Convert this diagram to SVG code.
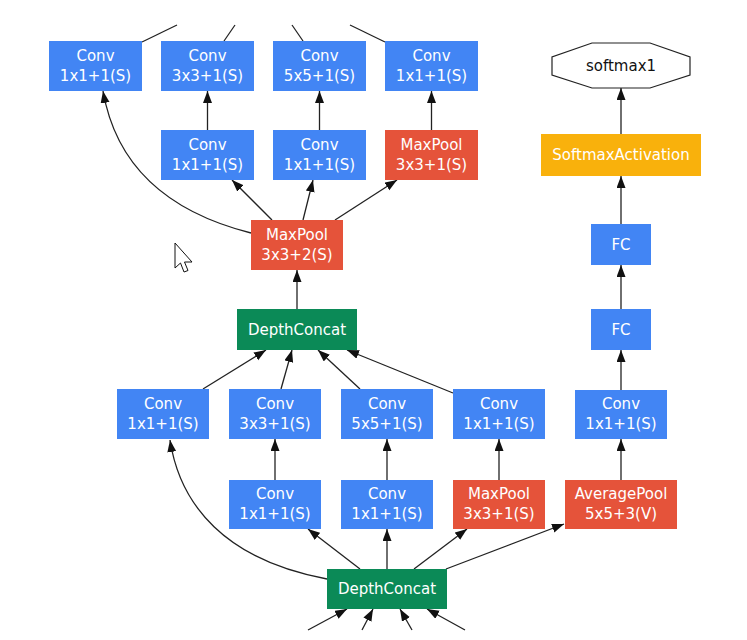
<svg xmlns="http://www.w3.org/2000/svg" width="747" height="640" viewBox="0 0 747 640">
<style>
.b{fill:#4285F4}
.r{fill:#E5533A}
.g{fill:#0B8A57}
.y{fill:#F9B10C}
text{font-family:"DejaVu Sans","Liberation Sans",sans-serif;font-size:15px;fill:#ffffff;text-anchor:middle}
text.k{fill:#111111}
.e{fill:none;stroke:#222222;stroke-width:1.3}
</style>
<defs>
<marker id="ah" markerUnits="userSpaceOnUse" markerWidth="13" markerHeight="10" refX="12" refY="4.5" orient="auto">
<path d="M0,0 L12,4.5 L0,9 z" fill="#111111"/>
</marker>
</defs>
<rect width="747" height="640" fill="#ffffff"/>

<g id="connectors">
<line class="e" x1="142" y1="42" x2="177" y2="25"/>
<line class="e" x1="224" y1="41" x2="235" y2="25"/>
<line class="e" x1="303" y1="41" x2="292" y2="25"/>
<line class="e" x1="385" y1="42" x2="350" y2="25"/>
<line class="e" x1="207.5" y1="130" x2="207.5" y2="91" marker-end="url(#ah)"/>
<line class="e" x1="319.5" y1="130" x2="319.5" y2="91" marker-end="url(#ah)"/>
<line class="e" x1="431.5" y1="130" x2="431.5" y2="91" marker-end="url(#ah)"/>
<path class="e" d="M251,233 C160,210 115,160 103,91" marker-end="url(#ah)"/>
<line class="e" x1="272" y1="220" x2="232" y2="180" marker-end="url(#ah)"/>
<line class="e" x1="303" y1="220" x2="313" y2="180" marker-end="url(#ah)"/>
<line class="e" x1="335" y1="220" x2="397" y2="180" marker-end="url(#ah)"/>
<line class="e" x1="297" y1="309" x2="297" y2="270" marker-end="url(#ah)"/>
<line class="e" x1="203" y1="389" x2="266" y2="350" marker-end="url(#ah)"/>
<line class="e" x1="281" y1="389" x2="292" y2="350" marker-end="url(#ah)"/>
<line class="e" x1="360" y1="389" x2="318" y2="350" marker-end="url(#ah)"/>
<line class="e" x1="453" y1="393" x2="347" y2="350" marker-end="url(#ah)"/>
<line class="e" x1="275" y1="480" x2="275" y2="439" marker-end="url(#ah)"/>
<line class="e" x1="387" y1="480" x2="387" y2="439" marker-end="url(#ah)"/>
<line class="e" x1="499" y1="480" x2="499" y2="439" marker-end="url(#ah)"/>
<line class="e" x1="621" y1="480" x2="621" y2="439" marker-end="url(#ah)"/>
<path class="e" d="M327,579 C225,560 180,505 170,440" marker-end="url(#ah)"/>
<line class="e" x1="360" y1="569" x2="308" y2="529" marker-end="url(#ah)"/>
<line class="e" x1="387" y1="569" x2="387" y2="529" marker-end="url(#ah)"/>
<line class="e" x1="414" y1="569" x2="467" y2="529" marker-end="url(#ah)"/>
<line class="e" x1="446" y1="569" x2="564" y2="524" marker-end="url(#ah)"/>
<line class="e" x1="308" y1="630" x2="347" y2="609" marker-end="url(#ah)"/>
<line class="e" x1="362" y1="630" x2="373" y2="609" marker-end="url(#ah)"/>
<line class="e" x1="412" y1="630" x2="400" y2="609" marker-end="url(#ah)"/>
<line class="e" x1="465" y1="630" x2="427" y2="609" marker-end="url(#ah)"/>
<line class="e" x1="621" y1="390" x2="621" y2="350" marker-end="url(#ah)"/>
<line class="e" x1="621" y1="309" x2="621" y2="265" marker-end="url(#ah)"/>
<line class="e" x1="621" y1="224" x2="621" y2="176" marker-end="url(#ah)"/>
<line class="e" x1="621" y1="134" x2="621" y2="88" marker-end="url(#ah)"/>
</g>

<g id="conv_t1"><rect class="b" x="49" y="41" width="93" height="50"/><text x="95.5" y="61">Conv</text><text x="95.5" y="81">1x1+1(S)</text></g>
<g id="conv_t2"><rect class="b" x="161" y="41" width="93" height="50"/><text x="207.5" y="61">Conv</text><text x="207.5" y="81">3x3+1(S)</text></g>
<g id="conv_t3"><rect class="b" x="273" y="41" width="93" height="50"/><text x="319.5" y="61">Conv</text><text x="319.5" y="81">5x5+1(S)</text></g>
<g id="conv_t4"><rect class="b" x="385" y="41" width="93" height="50"/><text x="431.5" y="61">Conv</text><text x="431.5" y="81">1x1+1(S)</text></g>

<g id="conv_m1"><rect class="b" x="161" y="130" width="93" height="50"/><text x="207.5" y="150">Conv</text><text x="207.5" y="170">1x1+1(S)</text></g>
<g id="conv_m2"><rect class="b" x="273" y="130" width="93" height="50"/><text x="319.5" y="150">Conv</text><text x="319.5" y="170">1x1+1(S)</text></g>
<g id="maxpool_m3"><rect class="r" x="385" y="130" width="93" height="50"/><text x="431.5" y="150">MaxPool</text><text x="431.5" y="170">3x3+1(S)</text></g>

<g id="maxpool_s2"><rect class="r" x="251" y="220" width="92" height="50"/><text x="297" y="240">MaxPool</text><text x="297" y="260">3x3+2(S)</text></g>

<g id="depthconcat_1"><rect class="g" x="237" y="309" width="120" height="41"/><text x="297" y="335">DepthConcat</text></g>

<g id="conv_a1"><rect class="b" x="117" y="389" width="92" height="50"/><text x="163" y="409">Conv</text><text x="163" y="429">1x1+1(S)</text></g>
<g id="conv_a2"><rect class="b" x="229" y="389" width="92" height="50"/><text x="275" y="409">Conv</text><text x="275" y="429">3x3+1(S)</text></g>
<g id="conv_a3"><rect class="b" x="341" y="389" width="92" height="50"/><text x="387" y="409">Conv</text><text x="387" y="429">5x5+1(S)</text></g>
<g id="conv_a4"><rect class="b" x="453" y="389" width="92" height="50"/><text x="499" y="409">Conv</text><text x="499" y="429">1x1+1(S)</text></g>

<g id="conv_b1"><rect class="b" x="229" y="480" width="92" height="49"/><text x="275" y="499">Conv</text><text x="275" y="519">1x1+1(S)</text></g>
<g id="conv_b2"><rect class="b" x="341" y="480" width="92" height="49"/><text x="387" y="499">Conv</text><text x="387" y="519">1x1+1(S)</text></g>
<g id="maxpool_b3"><rect class="r" x="453" y="480" width="92" height="49"/><text x="499" y="499">MaxPool</text><text x="499" y="519">3x3+1(S)</text></g>
<g id="avgpool"><rect class="r" x="565" y="480" width="112" height="49"/><text x="621" y="499">AveragePool</text><text x="621" y="519">5x5+3(V)</text></g>

<g id="depthconcat_0"><rect class="g" x="327" y="569" width="120" height="40"/><text x="387" y="594">DepthConcat</text></g>

<g id="conv_aux"><rect class="b" x="575" y="390" width="92" height="49"/><text x="621" y="409">Conv</text><text x="621" y="429">1x1+1(S)</text></g>
<g id="fc2"><rect class="b" x="591" y="309" width="60" height="41"/><text x="621" y="335">FC</text></g>
<g id="fc1"><rect class="b" x="591" y="224" width="60" height="41"/><text x="621" y="250">FC</text></g>
<g id="softmaxact"><rect class="y" x="541" y="134" width="160" height="42"/><text x="621" y="160">SoftmaxActivation</text></g>
<g id="softmax1"><polygon points="592,43 650,43 690,57 690,75 650,88 592,88 552,75 552,57" fill="#ffffff" stroke="#222222" stroke-width="1.2"/><text class="k" x="621" y="71">softmax1</text></g>

<path d="M175,243 L175,268 L180.5,263 L184,272 L188,270.5 L184.5,262 L192,262 Z" fill="#ffffff" stroke="#111111" stroke-width="1"/>
</svg>
